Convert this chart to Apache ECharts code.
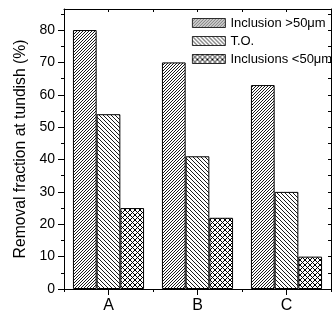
<!DOCTYPE html>
<html><head><meta charset="utf-8">
<script src="https://cdn.jsdelivr.net/npm/echarts@6/dist/echarts.min.js"></script>
<style>html,body{margin:0;padding:0;background:#fff}#c{width:332px;height:320px}</style>
</head><body><div id="c"></div>
<script>
const categories = ['A', 'B', 'C'];
const seriesNames = ['Inclusion >50\u03bcm', 'T.O.', 'Inclusions <50\u03bcm'];
const largeInclusion = [80, 70, 63];
const totalOxygen = [54, 41, 30];
const smallInclusion = [25, 22, 10];
const yTicks = [0, 10, 20, 30, 40, 50, 60, 70, 80];
const yMinorTicks = [5, 15, 25, 35, 45, 55, 65, 75, 85];
const yRightTicks = [5, 10, 15, 20, 25, 30, 35, 40, 45, 50, 55, 60, 65, 70, 75, 80, 85];

function hatch(dir, s) {
  const c = document.createElement('canvas');
  c.width = s; c.height = s;
  const g = c.getContext('2d');
  g.fillStyle = '#fff'; g.fillRect(0, 0, s, s);
  g.strokeStyle = '#000'; g.lineWidth = 0.9;
  g.beginPath();
  for (const o of [-s, 0, s]) {
    if (dir === '/') { g.moveTo(o - 1, s + 1); g.lineTo(o + s + 1, -1); }
    else { g.moveTo(o - 1, -1); g.lineTo(o + s + 1, s + 1); }
  }
  g.stroke();
  return c;
}
function cross(s) {
  const c = document.createElement('canvas');
  c.width = s; c.height = s;
  const g = c.getContext('2d');
  g.fillStyle = '#fff'; g.fillRect(0, 0, s, s);
  g.strokeStyle = '#000'; g.lineWidth = 1;
  g.beginPath();
  for (const o of [-s, 0, s]) {
    g.moveTo(o - 1, s + 1); g.lineTo(o + s + 1, -1);
    g.moveTo(o - 1, -1); g.lineTo(o + s + 1, s + 1);
  }
  g.stroke();
  return c;
}
const pats = [
  {image: hatch('/', 3), repeat: 'repeat'},
  {image: hatch('\\', 4), repeat: 'repeat'},
  {image: cross(5), repeat: 'repeat'}
];
const dataSets = [largeInclusion, totalOxygen, smallInclusion];
const font = 'Arial, "Liberation Sans", sans-serif';
const YMAX = 86.5;

const chart = echarts.init(document.getElementById('c'), null, {renderer: 'canvas'});
chart.setOption({
  animation: false,
  backgroundColor: '#fff',
  grid: {left: 64, right: 1, top: 9, bottom: 31, containLabel: false},
  legend: {
    orient: 'vertical', left: 187, top: 11, icon: 'rect',
    itemWidth: 33, itemHeight: 9, itemGap: 4,
    itemStyle: {borderWidth: 0.8, borderColor: '#000'},
    textStyle: {fontFamily: font, fontSize: 13, color: '#000', lineHeight: 14},
    data: seriesNames
  },
  xAxis: [
    {type: 'category', data: categories, position: 'bottom',
     axisLine: {show: true, lineStyle: {color: '#000', width: 1}},
     axisTick: {show: true, alignWithLabel: true, length: 6, inside: false, lineStyle: {color: '#000'}},
     axisLabel: {fontFamily: font, fontSize: 16, color: '#000', margin: 9},
     splitLine: {show: false}},
    {type: 'value', min: 0, max: 3, interval: 1, position: 'bottom', gridIndex: 0,
     axisLine: {show: false}, axisTick: {show: true, length: 3, lineStyle: {color: '#000'}},
     axisLabel: {show: false}, splitLine: {show: false}},
    {type: 'value', min: 0, max: 3, interval: 0.5, position: 'top', gridIndex: 0,
     axisLine: {show: true, onZero: false, lineStyle: {color: '#000'}},
     axisTick: {show: true, inside: true, length: 3, lineStyle: {color: '#000'}},
     axisLabel: {show: false}, splitLine: {show: false}}
  ],
  yAxis: [
    {type: 'value', min: 0, max: YMAX, position: 'left',
     name: 'Removal fraction at tundish (%)', nameLocation: 'middle', nameGap: 31,
     nameTextStyle: {fontFamily: font, fontSize: 15.7, color: '#000'},
     axisLine: {show: true, lineStyle: {color: '#000'}},
     axisTick: {show: true, length: 6, customValues: yTicks, lineStyle: {color: '#000'}},
     axisLabel: {fontFamily: font, fontSize: 14, color: '#000', margin: 9, customValues: yTicks},
     splitLine: {show: false}},
    {type: 'value', min: 0, max: YMAX, position: 'left',
     axisLine: {show: false},
     axisTick: {show: true, length: 3, customValues: yMinorTicks, lineStyle: {color: '#000'}},
     axisLabel: {show: false}, splitLine: {show: false}},
    {type: 'value', min: 0, max: YMAX, position: 'right',
     axisLine: {show: true, lineStyle: {color: '#000'}},
     axisTick: {show: true, inside: true, length: 3, customValues: yRightTicks, lineStyle: {color: '#000'}},
     axisLabel: {show: false}, splitLine: {show: false}}
  ],
  series: seriesNames.map((n, i) => ({
    name: n, type: 'bar', xAxisIndex: 0, yAxisIndex: 0,
    data: dataSets[i], barWidth: 23.7, barGap: '0%',
    itemStyle: {color: pats[i], borderColor: '#000', borderWidth: 1}
  }))
});
</script></body></html>
